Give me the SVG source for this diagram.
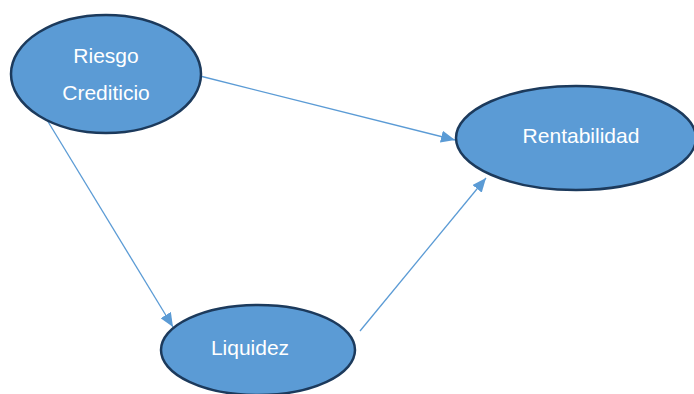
<svg xmlns="http://www.w3.org/2000/svg" width="694" height="394" viewBox="0 0 694 394">
<style>
.node{fill:#5B9BD5;stroke:#1C3A5C;stroke-width:2.5}
.lbl{font-family:"Liberation Sans",Arial,sans-serif;font-size:21px;fill:#ffffff;text-anchor:middle}
.edge{stroke:#5B9BD5;stroke-width:1.3;fill:none}
</style>
<defs>
<marker id="ah" markerWidth="14" markerHeight="12" refX="14" refY="6" orient="auto" markerUnits="userSpaceOnUse">
<path d="M0,0 L14,6 L0,12 Z" fill="#5B9BD5"/>
</marker>
</defs>
<rect width="694" height="394" fill="#ffffff"/>
<g id="connectors">
<line class="edge" x1="200" y1="76" x2="455" y2="140" marker-end="url(#ah)"/>
<line class="edge" x1="47" y1="120" x2="173" y2="327" marker-end="url(#ah)"/>
<line class="edge" x1="360" y1="331" x2="486" y2="178" marker-end="url(#ah)"/>
</g>
<g id="riesgo">
<ellipse class="node" cx="106" cy="74" rx="95" ry="59"/>
<text class="lbl" x="106" y="63">Riesgo</text>
<text class="lbl" x="106" y="100">Crediticio</text>
</g>
<g id="rentabilidad">
<ellipse class="node" cx="576" cy="138" rx="120" ry="52"/>
<text class="lbl" x="581" y="143">Rentabilidad</text>
</g>
<g id="liquidez">
<ellipse class="node" cx="258" cy="350" rx="97" ry="45"/>
<text class="lbl" x="250" y="355">Liquidez</text>
</g>
</svg>
